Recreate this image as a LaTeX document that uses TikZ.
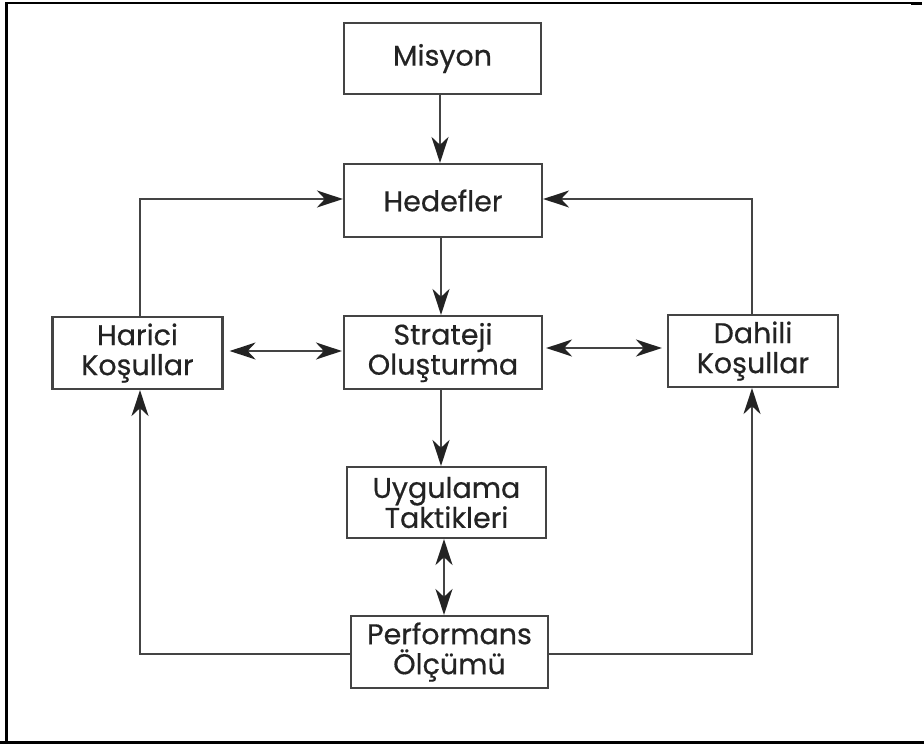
\documentclass[tikz,border=0pt]{standalone}
\usepackage{fontspec}
\setmainfont{Poppins}
\newfontfamily\boxfont[FakeBold=0.5]{Poppins}
\usetikzlibrary{arrows.meta}
\definecolor{ink}{HTML}{232323}
\definecolor{rule}{HTML}{444444}
\begin{document}
\begin{tikzpicture}[x=1pt,y=-1pt,
  >={Stealth[length=26pt,width=17pt,inset=8pt,color=ink]},
  box/.style={draw=rule,line width=2.2pt,fill=white,text=ink,inner sep=0pt,
    align=center,font=\boxfont\fontsize{28.5}{30}\selectfont},
  link/.style={draw=rule,line width=1.9pt}]
% page area and frame
\useasboundingbox (0,0) rectangle (924,744);
\fill[white] (0,0) rectangle (924,744);
\draw[black,line width=3pt] (6.5,2.5) -- (6.5,744);
\draw[black,line width=2pt] (5,2.5) -- (911,2.5);
\draw[black,line width=3pt] (911,3.5) -- (922,3.5);
\draw[black,line width=3.5pt] (0,742.5) -- (924,742.5);

% boxes
\node[box,minimum width=197pt,minimum height=71pt] (mis) at (442.5,58.5) {Misyon};
\node[box,minimum width=198pt,minimum height=73pt] (hed) at (443,200.5) {Hedefler};
\node[box,minimum width=198pt,minimum height=73pt] (str) at (443,352.5) {Strateji\\Oluşturma};
\node[box,minimum width=170pt,minimum height=72pt] (har) at (137.5,353) {Harici\\Koşullar};
\node[box,minimum width=170pt,minimum height=72pt] (dah) at (753,351) {Dahili\\Koşullar};
\node[box,minimum width=199pt,minimum height=71pt] (uyg) at (446.5,502.5) {Uygulama\\Taktikleri};
\node[box,minimum width=197pt,minimum height=72pt] (per) at (449.5,652) {Performans\\Ölçümü};

% corner points of the feedback loops
\coordinate (hl) at (140,199);
\coordinate (hr) at (752,199);
\coordinate (bl) at (140,654);
\coordinate (br) at (752,654);

% main chain
\draw[link,->] (mis.south -| 440,0) -- (hed.north -| 440,0);
\draw[link,->] (hed.south -| 441,0) -- (str.north -| 441,0);
\draw[link,->] (str.south -| 441,0) -- (uyg.north -| 441,0);
\draw[link,<->] (uyg.south -| 444,0) -- (per.north -| 444,0);

% lateral exchanges
\draw[link,<->,shorten <=6pt,shorten >=1pt] (har.east |- 0,351) -- (str.west |- 0,351);
\draw[link,<->,shorten <=3pt,shorten >=5pt] (str.east |- 0,348) -- (dah.west |- 0,348);

% feedback loops
\draw[link,->] (har.north -| hl) -- (hl) -- (hed.west |- hl);
\draw[link,->] (dah.north -| hr) -- (hr) -- (hed.east |- hr);
\draw[link,->] (per.west |- bl) -- (bl) -- (har.south -| bl);
\draw[link,->] (per.east |- br) -- (br) -- (dah.south -| br);
\end{tikzpicture}
\end{document}
